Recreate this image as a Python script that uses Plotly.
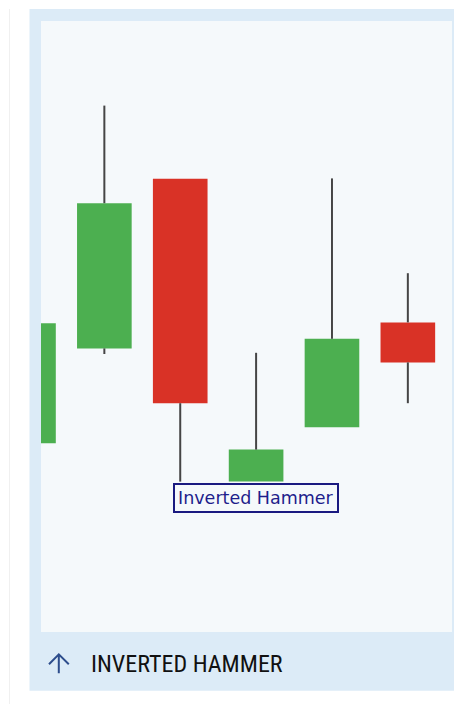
import plotly.graph_objects as go

# ---- data (price units, arbitrary scale) ----
candles = [0, 1, 2, 3, 4, 5]
opens = [64.2, 87.9, 130.3, 54.6, 68.2, 94.4]
highs = [100.0, 148.6, 130.3, 86.8, 130.4, 106.7]
lows = [58.0, 86.5, 54.6, 54.6, 68.2, 74.2]
closes = [94.2, 124.2, 74.2, 62.6, 90.3, 84.4]
pattern_label = "Inverted Hammer"
pattern_index = 3
footer_text = "INVERTED HAMMER"

GREEN = "#4caf50"
RED = "#d93226"
WICK = "#454545"

W, H = 454, 704
L, R, T, B = 41, 452, 21, 632  # plot area in pixels


def px(x):
    return (x - L) / (R - L)


def py(y):
    return (B - y) / (B - T)


fig = go.Figure()

# wicks (split into upper and lower parts)
wx, wy = [], []
for i, o, h, l, c in zip(candles, opens, highs, lows, closes):
    top, bot = max(o, c), min(o, c)
    if h > top:
        wx += [i, i, None]
        wy += [top, h, None]
    if l < bot:
        wx += [i, i, None]
        wy += [l, bot, None]
fig.add_trace(go.Scatter(x=wx, y=wy, mode="lines",
                         line=dict(color=WICK, width=2),
                         hoverinfo="skip", showlegend=False))

# bodies
base = [min(o, c) for o, c in zip(opens, closes)]
size = [abs(c - o) for o, c in zip(opens, closes)]
colors = [GREEN if c > o else RED for o, c in zip(opens, closes)]
fig.add_trace(go.Bar(x=candles, y=size, base=base, width=0.72,
                     marker=dict(color=colors, line=dict(width=0)),
                     showlegend=False))

arrow_path = "M {a} {b} L {c} {d} L {e} {f} M {c} {d} L {c} {g}".format(
    a=px(49), b=py(664.3), c=px(58.8), d=py(654.3), e=px(68.8), f=py(664.3),
    g=py(673.3))

shapes = [
    dict(type="line", xref="paper", yref="paper",
         x0=px(9.5), x1=px(9.5), y0=py(9), y1=py(710),
         line=dict(color="#f0f0f0", width=1), layer="below"),
    dict(type="rect", xref="paper", yref="paper",
         x0=px(29.5), x1=px(470), y0=py(690.7), y1=py(9),
         fillcolor="#dcebf7", line=dict(width=0), layer="below"),
    dict(type="rect", xref="paper", yref="paper",
         x0=px(41), x1=px(452), y0=py(632), y1=py(21),
         fillcolor="#f5f9fb", line=dict(width=0), layer="below"),
    dict(type="path", xref="paper", yref="paper", path=arrow_path,
         line=dict(color="#2d4d8c", width=2), layer="above"),
]

annotations = [
    dict(x=candles[pattern_index], y=lows[pattern_index], xref="x", yref="y",
         text=pattern_label, showarrow=False, xanchor="center", yanchor="top",
         yshift=-1.5, font=dict(family="DejaVu Sans", size=17.5, color="#1e1e8c"),
         bordercolor="#1a1a80", borderwidth=2, borderpad=3,
         bgcolor="rgba(255,255,255,0)"),
    dict(x=px(89), y=py(663.5), xref="paper", yref="paper",
         text=footer_text, showarrow=False, xanchor="left", yanchor="middle",
         font=dict(family="Roboto Condensed, Liberation Sans Narrow, Roboto",
                   size=24, color="#111111")),
]

fig.update_layout(
    width=W, height=H,
    margin=dict(l=L, r=W - R, t=T, b=H - B, pad=0),
    paper_bgcolor="white", plot_bgcolor="#f5f9fb",
    xaxis=dict(range=[0.165, 5.582], visible=False, showgrid=False, zeroline=False),
    yaxis=dict(range=[17, 169.75], visible=False, showgrid=False, zeroline=False),
    barmode="overlay",
    shapes=shapes, annotations=annotations,
    showlegend=False,
)

fig.write_html("out.html", config={"displayModeBar": False},
               post_script="document.body.style.margin='0';")
